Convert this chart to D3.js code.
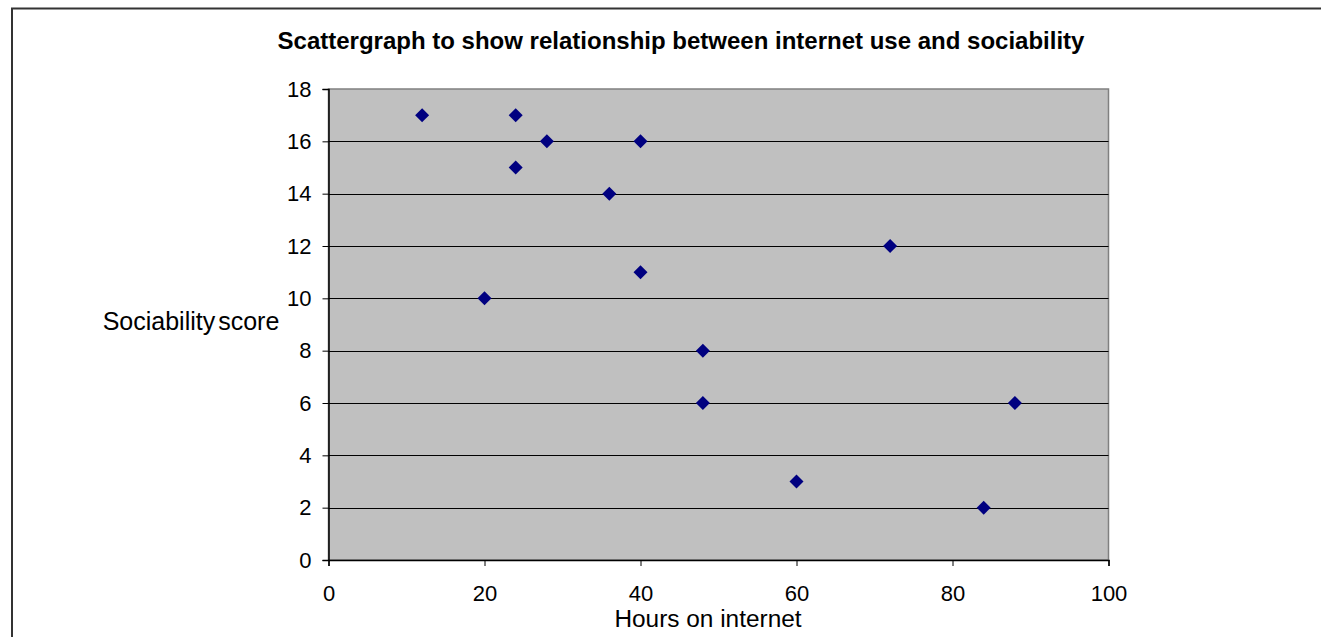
<!DOCTYPE html>
<html><head><meta charset="utf-8">
<script src="https://cdn.jsdelivr.net/npm/d3@7"></script>
<style>body{margin:0;background:#fff;}svg{display:block;font-family:Arial,"Liberation Sans",sans-serif;}</style>
</head><body><svg id="c" width="1321" height="637"></svg>
<script>
const hours = [12, 24, 24, 28, 40, 36, 72, 40, 20, 48, 48, 88, 60, 84];
const scores = [17, 17, 15, 16, 16, 14, 12, 11, 10, 8, 6, 6, 3, 2];
const xTicks = [0, 20, 40, 60, 80, 100];
const yTicks = [0, 2, 4, 6, 8, 10, 12, 14, 16, 18];
const titleText = "Scattergraph to show relationship between internet use and sociability";
const xTitle = "Hours on internet";
const yTitle = "Sociability score";

const svg = d3.select("#c");
const L = 328.5, R = 1108.5, T = 89, B = 560;
const x = d3.scaleLinear().domain([0, 100]).range([L, R]);
const y = d3.scaleLinear().domain([0, 18]).range([B, T]);

// outer border
svg.append("rect").attr("x", 12).attr("y", 8.5).attr("width", 1330).attr("height", 700)
  .attr("fill", "#fff").attr("stroke", "#333").attr("stroke-width", 2);

// plot area
svg.append("rect").attr("x", L).attr("y", T).attr("width", R - L).attr("height", B - T)
  .attr("fill", "#c0c0c0").attr("stroke", "#808080").attr("stroke-width", 1.5);

// gridlines
svg.append("g").selectAll("line").data(yTicks.filter(d => d > 0 && d < 18)).join("line")
  .attr("x1", L).attr("x2", R).attr("y1", d => Math.round(y(d)) + 0.5).attr("y2", d => Math.round(y(d)) + 0.5)
  .attr("stroke", "#000").attr("stroke-width", 1);

// axes
const yAxis = svg.append("g").attr("transform", `translate(${L},0)`)
  .call(d3.axisLeft(y).tickValues(yTicks).tickSize(6).tickPadding(11));
const xAxis = svg.append("g").attr("transform", `translate(0,${B})`)
  .call(d3.axisBottom(x).tickValues(xTicks).tickSize(6).tickPadding(19));
[yAxis, xAxis].forEach(a => {
  a.attr("font-size", 22).attr("font-family", "Arial, 'Liberation Sans', sans-serif");
  a.select(".domain").attr("stroke", "#000").attr("stroke-width", 1.5);
  a.selectAll(".tick line").attr("stroke", "#000");
  a.selectAll(".tick text").attr("fill", "#000");
});

// points
svg.append("g").selectAll("path").data(hours.map((h, i) => [h, scores[i]])).join("path")
  .attr("d", d3.symbol().type(d3.symbolDiamond2).size(125))
  .attr("transform", d => `translate(${x(d[0])},${y(d[1])})`)
  .attr("fill", "#000080");

// titles
svg.append("text").attr("x", 681).attr("y", 49).attr("text-anchor", "middle")
  .attr("font-size", 24).attr("font-weight", "bold").text(titleText);
svg.append("text").attr("x", 708).attr("y", 627).attr("text-anchor", "middle")
  .attr("font-size", 24.4).text(xTitle);
svg.append("text").attr("x", 191).attr("y", 330).attr("text-anchor", "middle")
  .attr("font-size", 25).attr("word-spacing", -4).text(yTitle);
</script></body></html>
